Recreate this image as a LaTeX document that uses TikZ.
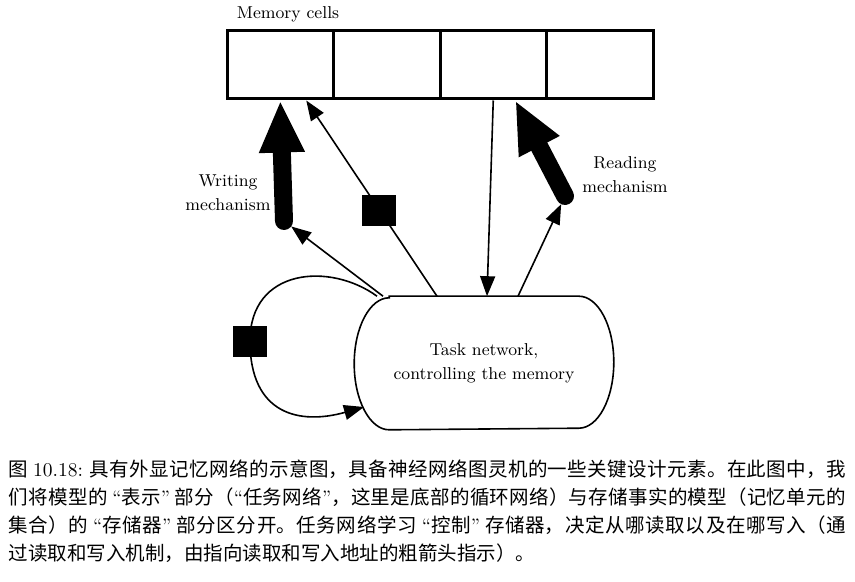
\documentclass[tikz,border=0pt]{standalone}
\usepackage{amsmath,amssymb}
\usepackage{fontspec}
\usepackage{tikz}
\usetikzlibrary{arrows.meta}
\newfontfamily\cjk{Noto Sans CJK SC}
\XeTeXlinebreaklocale "zh"
\XeTeXlinebreakskip=0pt plus 1pt
\newcommand{\yin}[1]{{\rmfamily``}#1{\rmfamily''}}

\begin{document}
\begin{tikzpicture}[x=0.5pt,y=-0.5pt,thick,font=\fontsize{8.6}{12}\selectfont,
	cell/.style ={rectangle, draw, line width=1.5pt, minimum width=53.25pt, minimum height=34pt, inner sep=0pt},
	gate/.style ={rectangle, fill=black, minimum width=17pt, minimum height=15.5pt, inner sep=0pt},
	arr/.style ={-{Triangle[length=10pt,width=7.5pt]}},
	fat/.style ={line width=9pt, line cap=round, -{Triangle[length=26pt,width=21pt]}},
	note/.style ={align=center, inner sep=0pt},
	caption/.style ={anchor=north west, inner sep=0pt, text width=418.5pt, align=justify, font=\cjk\fontsize{9.75}{14}\selectfont}]
		\useasboundingbox (0,0) rectangle (855,582);
		\node[cell] (c1) at (280.25,65) {};
		\node[cell] (c2) at (386.75,65) {};
		\node[cell] (c3) at (493.25,65) {};
		\node[cell] (c4) at (599.75,65) {};
		\node[note] (mem) at (288,14) {Memory cells};
		\node[note] (wlabel) at (228,193) {Writing\\mechanism};
		\node[note] (rlabel) at (625,175) {Reading\\mechanism};
		\node[minimum width=129pt, minimum height=66pt, align=center] (task) at (484,363) {Task network,\\controlling the memory};
		\draw ([xshift=17.5pt]task.north west) -- ([xshift=-17.5pt]task.north east) arc[start angle=90, end angle=-90, x radius=17.5pt, y radius=33pt] -- ([xshift=17.5pt]task.south west) arc[start angle=270, end angle=90, x radius=17.5pt, y radius=33pt] -- cycle;
		\coordinate (wtail) at (284,221);
		\coordinate (rtail) at (565,196);
		\draw[fat] (wtail)--(c1.south);
		\draw[fat] (rtail)--([xshift=11pt]c3.south);
		\draw[arr,shorten >=4.5pt] ([xshift=-50.5pt]task.north)--(wtail);
		\draw[arr,shorten >=4.5pt] ([xshift=17pt]task.north)--(rtail);
		\draw[arr] ([xshift=-23.5pt]task.north)-- node[gate,pos=.44] (gw) {} ([xshift=13pt]c1.south);
		\draw[arr] (c3.south)--([xshift=1.5pt]task.north);
		\draw[arr] ([xshift=-53.5pt]task.north) .. controls (330,262) and (250,268) .. (250,341) node[gate] (gl) {} .. controls (250,415) and (300,425) .. ([xshift=-60pt,yshift=-22pt]task.center);
		\node[caption] (cap) at (8,459) {图 {\rmfamily 10.18:} 具有外显记忆网络的示意图，具备神经网络图灵机的一些关键设计元素。在此图中，我\linebreak
们将模型的 \yin{表示} 部分（\yin{任务网络}，这里是底部的循环网络）与存储事实的模型（记忆单元的\linebreak
集合）的 \yin{存储器} 部分区分开。任务网络学习 \yin{控制} 存储器，决定从哪读取以及在哪写入（通\linebreak
过读取和写入机制，由指向读取和写入地址的粗箭头指示）。};
	\end{tikzpicture}
\end{document}
